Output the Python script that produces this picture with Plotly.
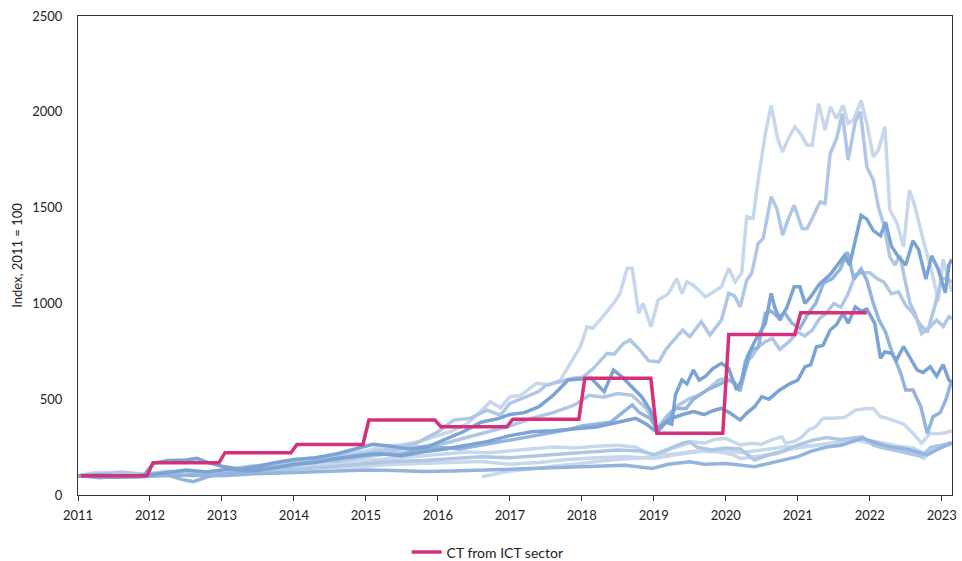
import plotly.graph_objects as go

# ---- data -------------------------------------------------------------
years = list(range(2011, 2024))

# Corporate tax from the ICT sector, annual index (2011 = 100)
ct_years = list(range(2011, 2022))
ct_values = [100, 168, 221, 264, 391, 356, 396, 609, 322, 838, 951]

# Tech share-price indices (2011 = 100), x in decimal years
a_x = [2011.0, 2011.25, 2011.5, 2011.75, 2012.0, 2012.25, 2012.5, 2012.75, 2013.0, 2013.25, 2013.5, 2013.75,
       2014.0, 2014.25, 2014.5, 2014.75, 2015.0, 2015.25, 2015.5, 2015.75, 2016.0, 2016.2, 2016.4, 2016.55,
       2016.73, 2016.87, 2017.0, 2017.15, 2017.37, 2017.55, 2017.7, 2017.84, 2017.98, 2018.07, 2018.15, 2018.29,
       2018.44, 2018.53, 2018.63, 2018.7, 2018.79, 2018.85, 2018.96, 2019.06, 2019.2, 2019.32, 2019.39, 2019.46,
       2019.55, 2019.72, 2019.8, 2019.94, 2020.04, 2020.13, 2020.22, 2020.29, 2020.38, 2020.45, 2020.55, 2020.63,
       2020.72, 2020.79, 2020.87, 2020.96, 2021.05, 2021.13, 2021.2, 2021.29, 2021.38, 2021.45, 2021.54, 2021.63,
       2021.7, 2021.78, 2021.88, 2021.96, 2022.05, 2022.12, 2022.21, 2022.28, 2022.38, 2022.47, 2022.55, 2022.63,
       2022.72, 2022.8, 2022.88, 2022.95, 2023.02, 2023.1, 2023.14]
a_y = [100, 118, 112, 100, 108, 125, 115, 120, 128, 145, 140, 160,
       175, 190, 205, 215, 230, 255, 262, 280, 310, 335, 370, 420,
       487, 455, 513, 520, 583, 575, 600, 687, 774, 878, 870, 930,
       1000, 1052, 1183, 1183, 949, 1000, 878, 1017, 1050, 1130, 1052, 1113,
       1095, 1034, 1052, 1087, 1183, 1113, 1157, 1452, 1443, 1643, 1887, 2034,
       1861, 1791, 1861, 1921, 1880, 1826, 1826, 2043, 1904, 2026, 1965, 2034,
       1939, 1960, 2060, 1939, 1765, 1800, 1921, 1487, 1417, 1295, 1591, 1504,
       1365, 1250, 1139, 1010, 1230, 1120, 1060]

b_x = [2011.0, 2011.25, 2011.5, 2011.75, 2012.0, 2012.3, 2012.6, 2012.85, 2013.1, 2013.4, 2013.7, 2014.0,
       2014.3, 2014.6, 2014.85, 2015.1, 2015.4, 2015.7, 2016.0, 2016.22, 2016.45, 2016.68, 2016.87, 2017.0,
       2017.24, 2017.4, 2017.51, 2017.7, 2017.88, 2018.02, 2018.16, 2018.35, 2018.45, 2018.58, 2018.67, 2018.8,
       2018.93, 2019.07, 2019.17, 2019.26, 2019.4, 2019.5, 2019.66, 2019.78, 2019.94, 2020.04, 2020.12, 2020.2,
       2020.29, 2020.36, 2020.45, 2020.52, 2020.63, 2020.71, 2020.79, 2020.87, 2020.95, 2021.06, 2021.13, 2021.19,
       2021.31, 2021.38, 2021.45, 2021.54, 2021.62, 2021.7, 2021.8, 2021.87, 2021.96, 2022.05, 2022.12, 2022.19,
       2022.28, 2022.35, 2022.42, 2022.49, 2022.56, 2022.63, 2022.72, 2022.84, 2022.93, 2023.02, 2023.1, 2023.14]
b_y = [100, 108, 95, 92, 100, 118, 108, 122, 130, 150, 145, 165,
       185, 200, 210, 225, 245, 270, 330, 391, 400, 443, 417, 478,
       513, 540, 574, 590, 609, 615, 661, 739, 735, 791, 809, 760,
       700, 695, 760, 800, 861, 826, 904, 835, 913, 1052, 1040, 982,
       1120, 1157, 1313, 1339, 1556, 1495, 1356, 1443, 1513, 1391, 1391, 1435,
       1530, 1521, 1782, 1861, 1991, 1748, 1950, 2000, 1713, 1643, 1504, 1417,
       1243, 1200, 1250, 1121, 1000, 948, 843, 878, 913, 880, 930, 920]

c_x = [2011.0, 2011.25, 2011.5, 2011.75, 2011.92, 2012.05, 2012.25, 2012.5, 2012.65, 2012.8, 2013.0, 2013.25,
       2013.5, 2013.75, 2014.0, 2014.3, 2014.6, 2014.85, 2015.1, 2015.35, 2015.6, 2015.85, 2016.1, 2016.35,
       2016.6, 2016.85, 2017.0, 2017.2, 2017.4, 2017.6, 2017.81, 2018.0, 2018.13, 2018.31, 2018.44, 2018.55,
       2018.7, 2018.83, 2018.95, 2019.05, 2019.17, 2019.25, 2019.3, 2019.39, 2019.46, 2019.55, 2019.63, 2019.72,
       2019.82, 2019.94, 2020.04, 2020.15, 2020.22, 2020.3, 2020.4, 2020.55, 2020.63, 2020.68, 2020.75, 2020.85,
       2020.95, 2021.03, 2021.1, 2021.18, 2021.3, 2021.45, 2021.55, 2021.65, 2021.72, 2021.8, 2021.88, 2021.96,
       2022.05, 2022.15, 2022.22, 2022.3, 2022.39, 2022.5, 2022.6, 2022.68, 2022.78, 2022.86, 2022.95, 2023.05,
       2023.1, 2023.14]
c_y = [100, 98, 92, 95, 105, 165, 180, 183, 191, 170, 150, 135,
       150, 170, 185, 195, 215, 240, 265, 255, 240, 250, 290, 330,
       380, 400, 420, 430, 460, 520, 600, 605, 609, 539, 652, 620,
       560, 513, 443, 330, 380, 370, 522, 600, 580, 652, 600, 620,
       660, 687, 660, 548, 600, 722, 800, 896, 1052, 980, 913, 980,
       1087, 1087, 1000, 1035, 1100, 1150, 1200, 1250, 1200, 1330, 1460, 1440,
       1380, 1353, 1424, 1300, 1248, 1200, 1327, 1280, 1127, 1248, 1180, 1055,
       1200, 1230]

d_x = [2011.0, 2011.3, 2011.6, 2011.9, 2012.2, 2012.45, 2012.6, 2012.8, 2013.0, 2013.3, 2013.6, 2013.9,
       2014.2, 2014.5, 2014.8, 2015.1, 2015.4, 2015.7, 2016.0, 2016.3, 2016.6, 2016.9, 2017.2, 2017.5,
       2017.8, 2018.0, 2018.2, 2018.4, 2018.6, 2018.7, 2018.8, 2018.95, 2019.05, 2019.2, 2019.3, 2019.45,
       2019.55, 2019.75, 2019.94, 2020.04, 2020.12, 2020.2, 2020.27, 2020.36, 2020.45, 2020.55, 2020.63, 2020.72,
       2020.82, 2020.92, 2021.03, 2021.15, 2021.25, 2021.36, 2021.48, 2021.59, 2021.69, 2021.78, 2021.88, 2021.96,
       2022.05, 2022.13, 2022.22, 2022.3, 2022.43, 2022.5, 2022.6, 2022.71, 2022.8, 2022.88, 2022.98, 2023.06,
       2023.14]
d_y = [100, 90, 100, 95, 110, 80, 70, 95, 110, 120, 140, 150,
       170, 185, 200, 215, 210, 230, 250, 240, 260, 280, 300, 320,
       340, 360, 370, 380, 440, 470, 430, 400, 340, 400, 452, 452,
       500, 550, 583, 600, 583, 548, 650, 756, 770, 948, 960, 930,
       950, 896, 870, 950, 1000, 1107, 1130, 1179, 1268, 1125, 1180, 1121,
       1000, 913, 850, 756, 635, 548, 548, 461, 322, 409, 430, 500,
       600]

e_x = [2011.0, 2011.3, 2011.6, 2011.9, 2012.2, 2012.5, 2012.8, 2013.1, 2013.4, 2013.7, 2014.0, 2014.3,
       2014.6, 2014.9, 2015.2, 2015.5, 2015.8, 2016.1, 2016.4, 2016.7, 2017.0, 2017.3, 2017.6, 2017.9,
       2018.2, 2018.5, 2018.75, 2018.9, 2019.0, 2019.1, 2019.25, 2019.4, 2019.55, 2019.7, 2019.82, 2019.94,
       2020.05, 2020.2, 2020.3, 2020.4, 2020.5, 2020.6, 2020.75, 2020.9, 2021.0, 2021.1, 2021.18, 2021.26,
       2021.35, 2021.45, 2021.54, 2021.63, 2021.7, 2021.8, 2021.88, 2021.96, 2022.07, 2022.15, 2022.21, 2022.3,
       2022.37, 2022.47, 2022.55, 2022.66, 2022.74, 2022.84, 2022.93, 2023.02, 2023.1, 2023.14]
e_y = [100, 105, 98, 100, 115, 130, 120, 135, 125, 140, 160, 170,
       190, 205, 215, 205, 225, 240, 260, 280, 310, 330, 335, 345,
       355, 380, 400, 370, 340, 360, 400, 420, 435, 420, 440, 452,
       430, 391, 430, 461, 513, 500, 548, 583, 600, 669, 680, 774,
       780, 861, 890, 948, 896, 982, 960, 970, 896, 713, 748, 740,
       704, 774, 720, 652, 640, 669, 620, 680, 600, 590]

f_x = [2011.0, 2011.3, 2011.6, 2011.9, 2012.2, 2012.5, 2012.8, 2013.1, 2013.4, 2013.7, 2014.0, 2014.3,
       2014.6, 2014.9, 2015.2, 2015.5, 2015.8, 2016.1, 2016.4, 2016.7, 2017.0, 2017.3, 2017.6, 2017.9,
       2018.1, 2018.3, 2018.5, 2018.7, 2018.9, 2019.05, 2019.2, 2019.35, 2019.5, 2019.62, 2019.75, 2019.9,
       2020.0, 2020.12, 2020.2, 2020.27, 2020.36, 2020.45, 2020.55, 2020.65, 2020.75, 2020.88, 2021.0, 2021.1,
       2021.2, 2021.3, 2021.4, 2021.5, 2021.6, 2021.7, 2021.8, 2021.9, 2022.0, 2022.1, 2022.2, 2022.3,
       2022.4, 2022.5, 2022.6, 2022.7, 2022.8, 2022.9, 2023.0, 2023.08, 2023.14]
f_y = [100, 112, 120, 108, 120, 125, 115, 130, 150, 160, 170, 180,
       175, 195, 210, 240, 255, 270, 300, 330, 360, 400, 430, 470,
       520, 510, 530, 520, 450, 350, 420, 470, 504, 520, 550, 600,
       609, 590, 540, 700, 720, 774, 800, 817, 760, 800, 850, 830,
       860, 920, 950, 1000, 980, 1050, 1150, 1160, 1160, 1130, 1110, 1050,
       1060, 990, 950, 890, 850, 980, 1130, 1130, 1110]

g_x = [2016.61, 2016.8, 2017.0, 2017.3, 2017.6, 2017.9, 2018.2, 2018.5, 2018.8, 2019.0, 2019.3, 2019.6,
       2019.9, 2020.1, 2020.2, 2020.4, 2020.7, 2020.9, 2021.1, 2021.35, 2021.6, 2021.8, 2022.0, 2022.2,
       2022.4, 2022.6, 2022.75, 2022.9, 2023.05, 2023.14]
g_y = [95, 110, 125, 135, 150, 160, 175, 185, 195, 200, 215, 230,
       225, 210, 190, 200, 215, 240, 250, 265, 280, 300, 285, 270,
       255, 245, 220, 245, 260, 265]

h_x = [2011.0, 2011.3, 2011.6, 2011.9, 2012.2, 2012.5, 2012.8, 2013.1, 2013.4, 2013.7, 2014.0, 2014.3,
       2014.6, 2014.9, 2015.2, 2015.5, 2015.8, 2016.1, 2016.4, 2016.7, 2017.0, 2017.3, 2017.6, 2017.9,
       2018.2, 2018.5, 2018.75, 2018.93, 2019.05, 2019.25, 2019.4, 2019.55, 2019.7, 2019.85, 2020.0, 2020.2,
       2020.35, 2020.5, 2020.65, 2020.78, 2020.83, 2020.95, 2021.05, 2021.15, 2021.25, 2021.35, 2021.5, 2021.65,
       2021.8, 2021.96, 2022.05, 2022.15, 2022.25, 2022.37, 2022.47, 2022.6, 2022.72, 2022.84, 2022.95, 2023.05,
       2023.14]
h_y = [100, 115, 105, 100, 118, 110, 120, 125, 140, 135, 150, 160,
       165, 180, 185, 195, 205, 215, 225, 220, 230, 240, 250, 245,
       255, 260, 250, 218, 205, 244, 260, 278, 270, 290, 296, 261,
       270, 265, 290, 304, 270, 280, 300, 340, 356, 400, 400, 405,
       443, 452, 452, 409, 400, 383, 370, 322, 270, 322, 320, 325,
       335]

i_x = [2011.0, 2011.4, 2011.8, 2012.2, 2012.6, 2013.0, 2013.4, 2013.8, 2014.2, 2014.6, 2015.0, 2015.4,
       2015.8, 2016.2, 2016.6, 2017.0, 2017.4, 2017.8, 2018.2, 2018.5, 2018.8, 2019.0, 2019.2, 2019.4,
       2019.5, 2019.6, 2019.8, 2020.0, 2020.2, 2020.4, 2020.6, 2020.8, 2021.0, 2021.2, 2021.4, 2021.6,
       2021.75, 2021.9, 2022.05, 2022.2, 2022.4, 2022.55, 2022.72, 2022.85, 2023.0, 2023.14]
i_y = [100, 95, 100, 110, 100, 115, 120, 130, 140, 150, 165, 175,
       180, 190, 200, 195, 205, 215, 225, 235, 230, 210, 240, 270,
       278, 250, 235, 245, 240, 183, 210, 230, 260, 285, 300, 290,
       296, 304, 260, 244, 230, 218, 200, 250, 260, 270]

j_x = [2011.0, 2011.4, 2011.8, 2012.2, 2012.6, 2013.0, 2013.4, 2013.8, 2014.2, 2014.6, 2015.0, 2015.4,
       2015.8, 2016.2, 2016.6, 2017.0, 2017.4, 2017.8, 2018.2, 2018.6, 2019.0, 2019.3, 2019.6, 2019.9,
       2020.2, 2020.5, 2020.8, 2021.0, 2021.3, 2021.6, 2021.8, 2022.0, 2022.2, 2022.4, 2022.6, 2022.75,
       2022.9, 2023.05, 2023.14]
j_y = [100, 110, 95, 105, 115, 110, 125, 130, 140, 145, 150, 160,
       165, 170, 175, 160, 170, 185, 195, 200, 190, 210, 225, 240,
       220, 235, 250, 252, 260, 270, 290, 270, 255, 240, 230, 191,
       240, 255, 265]

l_x = [2011.0, 2011.4, 2011.8, 2012.2, 2012.6, 2013.0, 2013.4, 2013.8, 2014.2, 2014.6, 2015.0, 2015.4,
       2015.8, 2016.2, 2016.6, 2017.0, 2017.4, 2017.8, 2018.2, 2018.6, 2018.98, 2019.2, 2019.5, 2019.7,
       2020.0, 2020.2, 2020.4, 2020.6, 2020.8, 2021.0, 2021.2, 2021.4, 2021.6, 2021.75, 2021.9, 2022.1,
       2022.3, 2022.5, 2022.7, 2022.8, 2022.9, 2023.05, 2023.14]
l_y = [100, 98, 95, 100, 105, 100, 110, 115, 120, 125, 130, 128,
       122, 125, 130, 135, 140, 145, 150, 155, 139, 160, 174, 160,
       165, 155, 148, 165, 183, 200, 230, 250, 260, 280, 296, 270,
       250, 240, 220, 210, 230, 260, 275]

# ---- styling ----------------------------------------------------------
LIGHT = "#C7D7EC"
LIGHT_MED = "#AFC6E5"
MEDIUM = "#93B4DD"
DARK = "#7BA3D4"
MAGENTA = "#D6307B"
FONT = "Lato, 'Open Sans', sans-serif"

# lighter lines first so the darker ones sit on top
series = [
    (a_x, a_y, LIGHT), (h_x, h_y, LIGHT), (j_x, j_y, LIGHT), (g_x, g_y, LIGHT),
    (b_x, b_y, LIGHT_MED), (f_x, f_y, LIGHT_MED), (i_x, i_y, LIGHT_MED),
    (d_x, d_y, MEDIUM), (l_x, l_y, MEDIUM),
    (c_x, c_y, DARK), (e_x, e_y, DARK),
]

fig = go.Figure()
for xs, ys, col in series:
    fig.add_trace(go.Scatter(x=xs, y=ys, mode="lines", showlegend=False, hoverinfo="skip",
                             line=dict(color=col, width=3.5)))

# annual corporate-tax values held flat across each month of the year
ct_x, ct_y = [], []
for yr, val in zip(ct_years, ct_values):
    for m in range(12):
        ct_x.append(yr + (m + 0.5) / 12)
        ct_y.append(val)

fig.add_trace(go.Scatter(x=ct_x, y=ct_y, mode="lines", name="CT from ICT sector",
                         line=dict(color=MAGENTA, width=3.5)))

fig.update_layout(
    width=962, height=561,
    margin=dict(l=78, r=10, t=16, b=66, autoexpand=False),
    paper_bgcolor="white", plot_bgcolor="white",
    font=dict(family=FONT, size=13, color="#222222"),
    showlegend=True,
    legend=dict(orientation="h", x=0.376, xanchor="left",
                y=-0.12, yanchor="middle", font=dict(size=14),
                bgcolor="rgba(0,0,0,0)"),
)
fig.update_xaxes(
    range=[2011, 2023.143], tickvals=years, ticktext=[str(y) for y in years],
    tickangle=0, automargin=False,
    showgrid=False, zeroline=False,
    showline=True, mirror=True, linecolor="#333333", linewidth=1,
    ticks="outside", ticklen=5, tickcolor="#333333", ticklabelstandoff=3,
)
fig.update_yaxes(
    range=[0, 2500], dtick=500, tick0=0, automargin=False,
    showgrid=False, zeroline=False,
    showline=True, mirror=True, linecolor="#333333", linewidth=1,
    ticks="", ticklabelstandoff=12,
    title=dict(text="Index, 2011 = 100", font=dict(size=13), standoff=6),
)

fig.write_html("out.html")
